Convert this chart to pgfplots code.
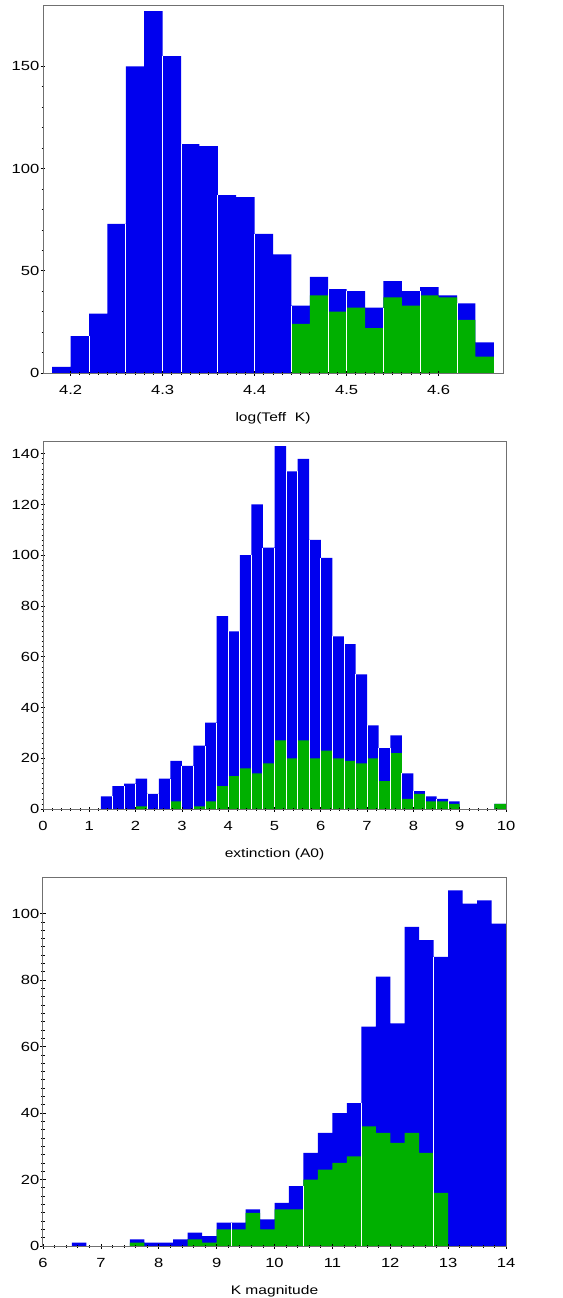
\documentclass[border=0pt]{standalone}
\usepackage{fontspec}
\setmainfont{Liberation Sans}[FakeStretch=1.25]
\usepackage{pgfplots}
\pgfplotsset{compat=1.18}
\definecolor{hblue}{RGB}{0,0,238}
\definecolor{hgreen}{RGB}{0,176,0}
\definecolor{frame}{RGB}{112,112,112}
\newcommand{\hfont}{\fontsize{12.5}{14}\selectfont}
\newcommand{\tfont}{\fontsize{13.3}{15}\selectfont}

\pgfplotsset{
  histo/.style={
    scale only axis, clip=false, axis on top,
    anchor=north west,
    axis line style={draw=frame, line width=1bp},
    xtick pos=bottom, ytick pos=left,
    tick align=center,
    major tick length=5bp, minor tick length=3bp,
    every tick/.style={black, line width=0.7bp},
    ymin=0,
    /pgf/number format/assume math mode=true,
    tick label style={font=\tfont},
    label style={font=\hfont},
    yticklabel style={inner sep=1bp},
    xticklabel style={yshift=-6bp},
    xlabel style={yshift=-11bp},
  },
  blue bars/.style={ybar interval, fill=hblue, draw=none},
  green bars/.style={ybar interval, fill=hgreen, draw=none},
  gaps/.style={ycomb, white, line width=0.9bp, mark=none},
}

\begin{document}
\begin{tikzpicture}
\useasboundingbox (0,0) rectangle (563bp,-1298bp);

% --- temperature ---
\begin{axis}[histo, at={(43bp,-5bp)}, width=460bp, height=368bp,
  xmin=4.17, xmax=4.67, ymax=180,
  xtick={4.2,4.3,4.4,4.5,4.6}, minor x tick num=9,
  ytick={0,50,100,150}, minor y tick num=4,
  xlabel={log(Teff~ K)}]
\addplot[blue bars] coordinates {
(4.18,3)(4.20,18)(4.22,29)(4.24,73)(4.26,150)(4.28,177)(4.30,155)(4.32,112)
(4.34,111)(4.36,87)(4.38,86)(4.40,68)(4.42,58)(4.44,33)(4.46,47)(4.48,41)
(4.50,40)(4.52,32)(4.54,45)(4.56,40)(4.58,42)(4.60,38)(4.62,34)(4.64,15)(4.66,15)
};
\addplot[green bars] coordinates {
(4.44,24)(4.46,38)(4.48,30)(4.50,32)(4.52,22)(4.54,37)(4.56,33)(4.58,38)
(4.60,37)(4.62,26)(4.64,8)(4.66,8)
};
\addplot[gaps] coordinates {
(4.22,18)(4.26,73)(4.30,155)(4.32,112)(4.36,87)(4.40,68)(4.44,33)
(4.48,41)(4.50,40)(4.54,32)(4.58,40)(4.62,34)
};
\draw[black, line width=1bp] (rel axis cs:0,1) -- (rel axis cs:0,0) -- (rel axis cs:1,0);
\end{axis}

% --- extinction ---
\begin{axis}[histo, at={(43bp,-441bp)}, width=463bp, height=368bp,
  xmin=0, xmax=10, ymax=145,
  xtick={0,1,...,10}, minor x tick num=4,
  ytick={0,20,...,140}, minor y tick num=9,
  xlabel={extinction (A0)}]
\addplot[blue bars] coordinates {
(1.25,5)(1.50,9)(1.75,10)(2.00,12)(2.25,6)(2.50,12)(2.75,19)(3.00,17)
(3.25,25)(3.50,34)(3.75,76)(4.00,70)(4.25,100)(4.50,120)(4.75,103)(5.00,143)
(5.25,133)(5.50,138)(5.75,106)(6.00,99)(6.25,68)(6.50,65)(6.75,53)(7.00,33)
(7.25,24)(7.50,29)(7.75,14)(8.00,7)(8.25,5)(8.50,4)(8.75,3)(9.00,0)
(9.25,0)(9.50,0)(9.75,2)(10.00,2)
};
\addplot[green bars] coordinates {
(2.00,1)(2.25,0)(2.50,0)(2.75,3)(3.00,0)(3.25,1)(3.50,3)(3.75,9)
(4.00,13)(4.25,16)(4.50,14)(4.75,18)(5.00,27)(5.25,20)(5.50,27)(5.75,20)
(6.00,23)(6.25,20)(6.50,19)(6.75,18)(7.00,20)(7.25,11)(7.50,22)(7.75,4)
(8.00,6)(8.25,3)(8.50,3)(8.75,2)(9.00,0)(9.25,0)(9.50,0)(9.75,2)(10.00,2)
};
\addplot[gaps] coordinates {
(1.50,5)(1.75,9)(2.00,10)(2.25,6)(2.50,6)(2.75,12)(3.00,17)(3.25,17)
(3.50,25)(3.75,34)(4.00,70)(4.25,70)(4.50,100)(4.75,103)(5.00,103)(5.25,133)
(5.50,133)(5.75,106)(6.00,99)(6.25,68)(6.50,65)(6.75,53)(7.00,33)(7.25,24)
(7.50,24)(7.75,14)(8.00,7)(8.25,5)(8.50,4)(8.75,3)
};
\draw[black, line width=1bp] (rel axis cs:0,1) -- (rel axis cs:0,0) -- (rel axis cs:1,0);
\end{axis}

% --- K magnitude ---
\begin{axis}[histo, at={(43bp,-877bp)}, width=463bp, height=369bp,
  xmin=6, xmax=14, ymax=111,
  xtick={6,7,...,14}, minor x tick num=4,
  ytick={0,20,...,100}, minor y tick num=7,
  xlabel={K magnitude}]
\addplot[blue bars] coordinates {
(6.50,1)(6.75,0)(7.00,0)(7.25,0)(7.50,2)(7.75,1)(8.00,1)(8.25,2)
(8.50,4)(8.75,3)(9.00,7)(9.25,7)(9.50,11)(9.75,8)(10.00,13)(10.25,18)
(10.50,28)(10.75,34)(11.00,40)(11.25,43)(11.50,66)(11.75,81)(12.00,67)(12.25,96)
(12.50,92)(12.75,87)(13.00,107)(13.25,103)(13.50,104)(13.75,97)(14.00,97)
};
\addplot[green bars] coordinates {
(7.50,1)(7.75,0)(8.00,0)(8.25,0)(8.50,2)(8.75,1)(9.00,5)(9.25,5)
(9.50,10)(9.75,5)(10.00,11)(10.25,11)(10.50,20)(10.75,23)(11.00,25)(11.25,27)
(11.50,36)(11.75,34)(12.00,31)(12.25,34)(12.50,28)(12.75,16)(13.00,16)
};
\addplot[gaps] coordinates {(9.25,7)(10.50,18)(11.50,43)(12.75,87)};
\draw[black, line width=1bp] (rel axis cs:0,1) -- (rel axis cs:0,0) -- (rel axis cs:1,0);
\end{axis}
\end{tikzpicture}
\end{document}
